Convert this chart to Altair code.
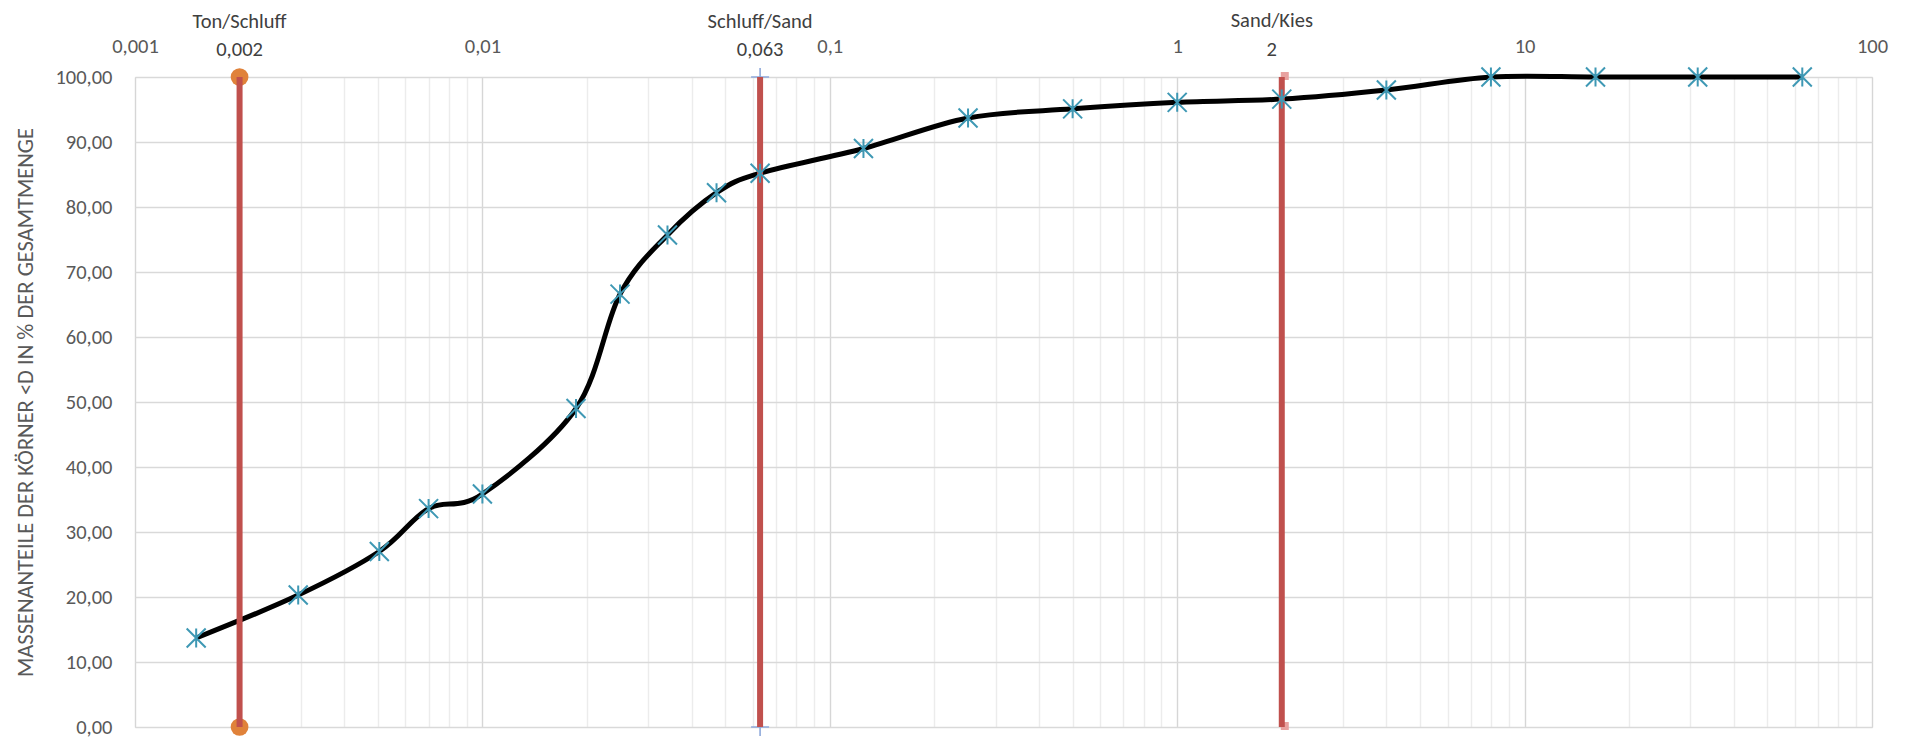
import altair as alt
import pandas as pd

# ---- data ----
diameter_mm = [0.0015, 0.00295, 0.00505, 0.007, 0.01, 0.0186, 0.0249, 0.0341, 0.0472, 0.063,
               0.125, 0.25, 0.5, 1, 2, 4, 8, 16, 31.5, 63]
passing_pct = [13.7, 20.3, 27.0, 33.6, 35.85, 49.0, 66.6, 75.7, 82.2, 85.2,
               89.0, 93.7, 95.1, 96.1, 96.6, 98.0, 100, 100, 100, 100]

boundary_mm = [0.002, 0.063, 2]
boundary_name = ["Ton/Schluff", "Schluff/Sand", "Sand/Kies"]
boundary_label = ["0,002", "0,063", "2"]
boundary_low = [0, 0, 0]
boundary_high = [100, 100, 100]

x_major = [0.001, 0.01, 0.1, 1, 10, 100]
x_minor_mult = [1, 2, 3, 4, 5, 6, 7, 8, 9]
y_ticks = [0, 10, 20, 30, 40, 50, 60, 70, 80, 90, 100]

FONT = "Carlito, Lato, sans-serif"
GREY = "#595959"
DARK = "#404040"
Y_TITLE = "MASSENANTEILE DER KÖRNER <D IN % DER GESAMTMENGE"

x_grid_values = [m * d for d in x_major[:-1] for m in x_minor_mult] + [x_major[-1]]

curve = pd.DataFrame({"d": diameter_mm, "p": passing_pct})
bounds = pd.DataFrame({"d": boundary_mm, "name": boundary_name, "label": boundary_label,
                       "p": boundary_low, "hi": boundary_high})
ends = pd.DataFrame({
    "d": [d for d in boundary_mm for _ in range(2)],
    "p": [v for lo, hi in zip(boundary_low, boundary_high) for v in (lo, hi)],
    "name": [n for n in boundary_name for _ in range(2)],
})

W, H = 1737, 650

x_scale = alt.Scale(type="log", domain=[x_major[0], x_major[-1]], nice=False)
y_scale = alt.Scale(domain=[0, 100], nice=False)

is_major = "abs(log(datum.value)/LN10 - round(log(datum.value)/LN10)) < 0.000001"

x_axis = alt.Axis(
    orient="top", values=x_grid_values, title=None,
    labelExpr=f"({is_major}) ? replace(format(datum.value, '~g'), '.', ',') : ''",
    labelOverlap=False, labelFlush=False, labelFont=FONT, labelFontSize=20.5,
    labelColor=GREY, labelPadding=21, ticks=False, tickSize=0, domain=False,
    grid=True, gridWidth=1.4,
    gridColor={"condition": {"test": is_major, "value": "#d6d6d6"}, "value": "#ececec"},
)
y_axis = alt.Axis(
    values=y_ticks, title=Y_TITLE,
    labelExpr="replace(format(datum.value, '.2f'), '.', ',')",
    labelFont=FONT, labelFontSize=20.5, labelColor=GREY, labelPadding=23,
    ticks=False, tickSize=0, domain=False, grid=True, gridColor="#d9d9d9", gridWidth=1.4,
    titleFont=FONT, titleFontSize=22.5, titleFontWeight="normal", titleColor=GREY,
    titleAngle=270, titleX=-110, titleY=H / 2, titleAlign="center", titleBaseline="middle",
)

X = alt.X("d:Q", scale=x_scale, axis=x_axis, title=None)
Y = alt.Y("p:Q", scale=y_scale, axis=y_axis, title=Y_TITLE)

line = alt.Chart(curve).mark_line(color="black", strokeWidth=5, interpolate="cardinal").encode(
    x=X, y=Y,
)

circles = alt.Chart(ends).transform_filter(alt.datum.name == boundary_name[0]).mark_point(
    shape="circle", filled=True, color="#E0823A", size=314, opacity=1
).encode(x=X, y=Y)
plus = alt.Chart(ends).transform_filter(alt.datum.name == boundary_name[1]).mark_point(
    shape="M-1,0L1,0M0,-1L0,1", filled=False, color="#8EA9DB", size=324, strokeWidth=1.6, opacity=1
).encode(x=X, y=Y)
squares = alt.Chart(ends).transform_filter(alt.datum.name == boundary_name[2]).mark_point(
    shape="square", filled=True, color="#E8A2A0", size=64, opacity=1, xOffset=3, yOffset=-1
).encode(x=X, y=Y)

rules = alt.Chart(bounds).mark_rule(color="#C0504D", strokeWidth=6).encode(
    x=X, y=Y, y2="hi:Q",
)

stars = alt.Chart(curve).mark_point(
    shape="M-1,-1L1,1M-1,1L1,-1M0,-1L0,1", filled=False, color="#3E98B4",
    size=361, strokeWidth=2, opacity=1
).encode(x=X, y=Y)

names_main = alt.Chart(bounds).transform_filter(alt.datum.name != boundary_name[2]).mark_text(
    font=FONT, fontSize=20.5, color=DARK, baseline="middle", align="center"
).encode(x=X, y=alt.value(-55), text="name:N")
labels_main = alt.Chart(bounds).transform_filter(alt.datum.name != boundary_name[2]).mark_text(
    font=FONT, fontSize=20.5, color=DARK, baseline="middle", align="center"
).encode(x=X, y=alt.value(-27), text="label:N")
names_last = alt.Chart(bounds).transform_filter(alt.datum.name == boundary_name[2]).mark_text(
    font=FONT, fontSize=20.5, color=DARK, baseline="middle", align="center", dx=-10
).encode(x=X, y=alt.value(-56), text="name:N")
labels_last = alt.Chart(bounds).transform_filter(alt.datum.name == boundary_name[2]).mark_text(
    font=FONT, fontSize=20.5, color=DARK, baseline="middle", align="center", dx=-10
).encode(x=X, y=alt.value(-27), text="label:N")

chart = alt.layer(
    line, circles, plus, squares, rules, stars, names_main, labels_main, names_last, labels_last
).properties(
    width=W, height=H,
    autosize=alt.AutoSizeParams(type="none"),
    padding={"left": 127, "top": 69, "right": 30, "bottom": 15},
).configure_view(stroke=None).configure(background="white")

chart.save("out.html", embed_options={"renderer": "svg", "actions": False})
